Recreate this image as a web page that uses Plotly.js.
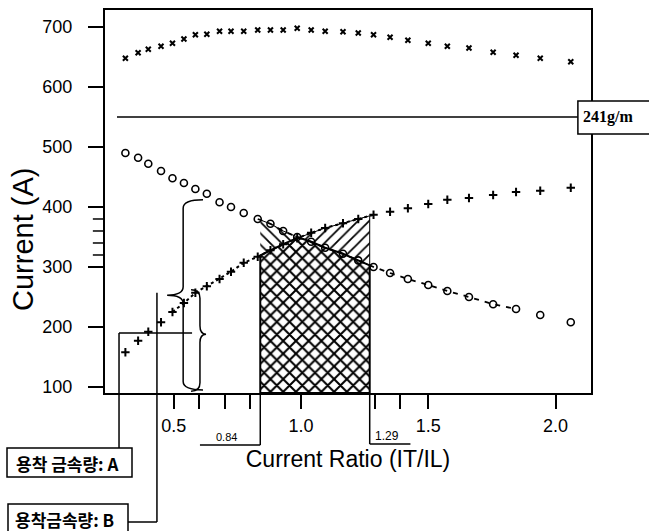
<!DOCTYPE html>
<html>
<head>
<meta charset="utf-8">
<script src="https://cdn.plot.ly/plotly-3.0.1.min.js"></script>
<style>html,body{margin:0;padding:0;background:#fff;}#chart{width:649px;height:531px;}</style>
</head>
<body>
<div id="chart"></div>
<script>
// ---- data ----
const ratio = [0.31, 0.36, 0.40, 0.45, 0.495, 0.54, 0.585, 0.63, 0.68, 0.725, 0.775, 0.83,
  0.88, 0.93, 0.985, 1.04, 1.095, 1.165, 1.225, 1.285, 1.35, 1.42, 1.50, 1.575, 1.66,
  1.755, 1.845, 1.94, 2.06];
const currentX = [648, 657, 663, 668, 673, 680, 687, 688, 693, 693, 693, 695, 695, 695, 698,
  695, 693, 692, 690, 687, 683, 678, 673, 668, 665, 658, 653, 648, 642];
const currentO = [490, 482, 472, 460, 448, 440, 430, 422, 408, 400, 390, 380, 372, 360, 350,
  342, 332, 322, 311, 300, 290, 280, 270, 260, 250, 238, 230, 220, 208];
const currentP = [158, 177, 192, 208, 225, 240, 257, 268, 280, 292, 307, 317, 328, 338, 348,
  357, 365, 373, 380, 387, 392, 398, 405, 412, 415, 420, 425, 427, 432];
const xTickVals = [0.5, 0.6, 0.7, 0.8, 1.0, 1.29, 1.39, 1.5, 2.0];
const xTickText = ['0.5', '', '', '', '1.0', '', '', '1.5', '2.0'];
const yTickVals = [100, 200, 300, 400, 500, 600, 700];
const yMinorVals = [320, 340, 360, 380];
const bandLow = 0.84, bandHigh = 1.27;
const bandLowLabel = '0.84', bandHighLabel = '1.29';
const depositLevel = 550, depositLabel = '241g/m';
const labelA = '용착 금속량: A', labelB = '용착금속량: B';
const rangeA = [93, 262], rangeB = [95, 412];
const xTitle = 'Current Ratio (IT/IL)', yTitle = 'Current (A)';

// ---- geometry ----
const XR = [0.2299, 2.1395], YR = [90, 728.3];
const PL = 105, PT = 10, PW = 486, PH = 383;
const xp = v => (v - XR[0]) / (XR[1] - XR[0]);
const yp = v => (v - YR[0]) / (YR[1] - YR[0]);
const pxX = px => (px - PL) / PW;          // page pixel -> paper
const pxY = py => (PT + PH - py) / PH;

function interp(xs, ys, x) {
  for (let i = 0; i < xs.length - 1; i++) {
    if (x >= xs[i] && x <= xs[i + 1]) {
      const t = (x - xs[i]) / (xs[i + 1] - xs[i]);
      return ys[i] + t * (ys[i + 1] - ys[i]);
    }
  }
  return ys[ys.length - 1];
}
// crossing of circle and plus curves
let cross = null;
for (let i = 0; i < ratio.length - 1; i++) {
  const d0 = currentO[i] - currentP[i], d1 = currentO[i + 1] - currentP[i + 1];
  if (d0 >= 0 && d1 < 0) { cross = ratio[i] + d0 / (d0 - d1) * (ratio[i + 1] - ratio[i]); break; }
}
const xsBand = [bandLow].concat(ratio.filter(v => v > bandLow && v < bandHigh), [cross, bandHigh])
  .sort((a, b) => a - b);
const cO = xsBand.map(x => interp(ratio, currentO, x));
const cP = xsBand.map(x => interp(ratio, currentP, x));
const lower = xsBand.map((x, i) => Math.min(cO[i], cP[i]));

// cross-hatched region
const crossX = xsBand.concat([bandHigh, bandLow, bandLow]);
const crossY = lower.concat([YR[0], YR[0], lower[0]]);
// diagonal-hatched regions
const li = xsBand.filter(x => x <= cross);
const leftX = li.concat(li.slice().reverse());
const leftY = li.map(x => interp(ratio, currentO, x)).concat(li.slice().reverse().map(x => interp(ratio, currentP, x)));
const ri = xsBand.filter(x => x >= cross);
const rightX = ri.concat(ri.slice().reverse());
const rightY = ri.map(x => interp(ratio, currentP, x)).concat(ri.slice().reverse().map(x => interp(ratio, currentO, x)));

const traces = [
  {x: leftX, y: leftY, mode: 'lines', fill: 'toself', line: {color: 'black', width: 1},
   fillcolor: 'white', fillpattern: {shape: '\\', size: 8, solidity: 0.22, fgcolor: 'black', bgcolor: 'white'},
   hoverinfo: 'skip', showlegend: false},
  {x: rightX, y: rightY, mode: 'lines', fill: 'toself', line: {color: 'black', width: 1},
   fillcolor: 'white', fillpattern: {shape: '/', size: 8, solidity: 0.22, fgcolor: 'black', bgcolor: 'white'},
   hoverinfo: 'skip', showlegend: false},
  {x: crossX, y: crossY, mode: 'lines', fill: 'toself', line: {color: 'black', width: 2},
   fillcolor: 'white', fillpattern: {shape: 'x', size: 9, solidity: 0.4, fgcolor: 'black', bgcolor: 'white'},
   hoverinfo: 'skip', showlegend: false},
  // dotted guide on plus series
  {x: ratio.slice(4, 20), y: currentP.slice(4, 20), mode: 'lines',
   line: {color: 'black', width: 2, dash: 'dot'}, showlegend: false, hoverinfo: 'skip'},
  // dashed guide on circle series
  {x: ratio.slice(11, 27), y: currentO.slice(11, 27), mode: 'lines',
   line: {color: 'black', width: 1.8, dash: '5px,6px'}, showlegend: false, hoverinfo: 'skip'},
  {x: ratio, y: currentX, mode: 'markers', name: 'x',
   marker: {symbol: 'x-thin-open', size: 5, color: 'black', line: {color: 'black', width: 2}}, showlegend: false},
  {x: ratio, y: currentO, mode: 'markers', name: 'o',
   marker: {symbol: 'circle-open', size: 7, color: 'black', line: {color: 'black', width: 1.6}}, showlegend: false},
  {x: ratio, y: currentP, mode: 'markers', name: '+',
   marker: {symbol: 'cross-thin-open', size: 6, color: 'black', line: {color: 'black', width: 2}}, showlegend: false}
];

function bracePath(stem, tip, end, yTop, yTip, yBot) {
  const r = 14;
  return `M ${end},${yTop} Q ${stem},${yTop} ${stem},${yTop - r} L ${stem},${yTip + r} ` +
         `Q ${stem},${yTip} ${tip},${yTip} Q ${stem},${yTip} ${stem},${yTip - r} ` +
         `L ${stem},${yBot + r} Q ${stem},${yBot} ${end},${yBot}`;
}

const blk = {color: 'black', width: 1.5};
const shapes = [
  {type: 'line', xref: 'x', yref: 'y', x0: 0.277, x1: 2.088, y0: depositLevel, y1: depositLevel, line: blk},
  {type: 'rect', xref: 'paper', yref: 'paper', x0: xp(2.088), x1: pxX(665), y0: pxY(134), y1: pxY(101),
   line: blk, fillcolor: 'white', layer: 'above'},
  {type: 'path', xref: 'x', yref: 'y', path: bracePath(0.537, 0.474, 0.615, rangeB[1], 253, rangeB[0]), line: blk},
  {type: 'path', xref: 'x', yref: 'y', path: bracePath(0.603, 0.627, 0.568, rangeA[1], 188, rangeA[0]), line: blk},
  {type: 'line', xref: 'paper', yref: 'paper', x0: xp(0.285), x1: xp(0.572), y0: yp(190), y1: yp(190), line: blk},
  {type: 'line', xref: 'paper', yref: 'paper', x0: xp(0.285), x1: xp(0.285), y0: yp(190), y1: pxY(448), line: blk},
  {type: 'line', xref: 'paper', yref: 'paper', x0: xp(0.434), x1: xp(0.434), y0: yp(257), y1: pxY(522), line: blk},
  {type: 'line', xref: 'paper', yref: 'paper', x0: pxX(128), x1: xp(0.434), y0: pxY(522), y1: pxY(522), line: blk},
  {type: 'rect', xref: 'paper', yref: 'paper', x0: pxX(7), x1: pxX(132), y0: pxY(477), y1: pxY(448), line: blk},
  {type: 'rect', xref: 'paper', yref: 'paper', x0: pxX(8), x1: pxX(128), y0: pxY(540), y1: pxY(504), line: blk},
  {type: 'line', xref: 'paper', yref: 'paper', x0: xp(bandLow), x1: xp(bandLow), y0: 0, y1: pxY(445), line: blk},
  {type: 'line', xref: 'paper', yref: 'paper', x0: xp(0.603), x1: xp(bandLow), y0: pxY(445), y1: pxY(445), line: blk},
  {type: 'line', xref: 'paper', yref: 'paper', x0: xp(bandHigh), x1: xp(bandHigh), y0: 0, y1: pxY(444), line: blk},
  {type: 'line', xref: 'paper', yref: 'paper', x0: xp(bandHigh), x1: xp(1.43), y0: pxY(444), y1: pxY(444), line: blk}
];
yMinorVals.forEach(v => shapes.push({type: 'line', xref: 'paper', yref: 'y', x0: -0.025, x1: 0, y0: v, y1: v,
  line: {color: 'black', width: 1.5}}));

const annotations = [
  {xref: 'paper', yref: 'y', x: xp(2.088) + 0.006, y: depositLevel, xanchor: 'left', yanchor: 'middle',
   text: '<b>' + depositLabel + '</b>', showarrow: false, font: {family: 'Liberation Serif, serif', size: 16, color: 'black'}},
  {xref: 'paper', yref: 'paper', x: pxX(67), y: pxY(463), xanchor: 'center', yanchor: 'middle',
   text: '<b>' + labelA + '</b>', showarrow: false, font: {family: 'Noto Sans CJK KR, sans-serif', size: 17, color: 'black'}},
  {xref: 'paper', yref: 'paper', x: pxX(64), y: pxY(519), xanchor: 'center', yanchor: 'middle',
   text: '<b>' + labelB + '</b>', showarrow: false, font: {family: 'Noto Sans CJK KR, sans-serif', size: 17, color: 'black'}},
  {xref: 'paper', yref: 'paper', x: pxX(226), y: pxY(437), xanchor: 'center', yanchor: 'middle',
   text: bandLowLabel, showarrow: false, font: {family: 'Liberation Sans, Arial, sans-serif', size: 11, color: 'black'}},
  {xref: 'paper', yref: 'paper', x: pxX(387), y: pxY(436), xanchor: 'center', yanchor: 'middle',
   text: bandHighLabel, showarrow: false, font: {family: 'Liberation Sans, Arial, sans-serif', size: 12, color: 'black'}},
  {xref: 'paper', yref: 'paper', x: pxX(23), y: pxY(240), xanchor: 'center', yanchor: 'middle', textangle: -90,
   text: yTitle, showarrow: false, font: {family: 'Liberation Sans, Arial, sans-serif', size: 29, color: 'black'}}
];

const layout = {
  width: 649, height: 531,
  margin: {l: PL, r: 649 - PL - PW, t: PT, b: 531 - PT - PH},
  paper_bgcolor: 'white', plot_bgcolor: 'white',
  font: {family: 'Liberation Sans, Arial, sans-serif', color: 'black'},
  showlegend: false,
  xaxis: {
    range: XR, showgrid: false, zeroline: false, showline: true, linecolor: 'black', linewidth: 2, mirror: true,
    ticks: 'outside', ticklen: 14, tickwidth: 2, tickcolor: 'black',
    tickvals: xTickVals, ticktext: xTickText, tickfont: {size: 18}, ticklabelstandoff: 1,
    title: {text: xTitle, font: {size: 23}, standoff: 16}
  },
  yaxis: {
    range: YR, showgrid: false, zeroline: false, showline: true, linecolor: 'black', linewidth: 2, mirror: true,
    ticks: 'outside', ticklen: 15, tickwidth: 2, tickcolor: 'black',
    tickvals: yTickVals, tickfont: {size: 18}, ticklabelstandoff: 12
  },
  shapes: shapes,
  annotations: annotations
};

Plotly.newPlot('chart', traces, layout, {displayModeBar: false, staticPlot: true});
</script>
</body>
</html>
